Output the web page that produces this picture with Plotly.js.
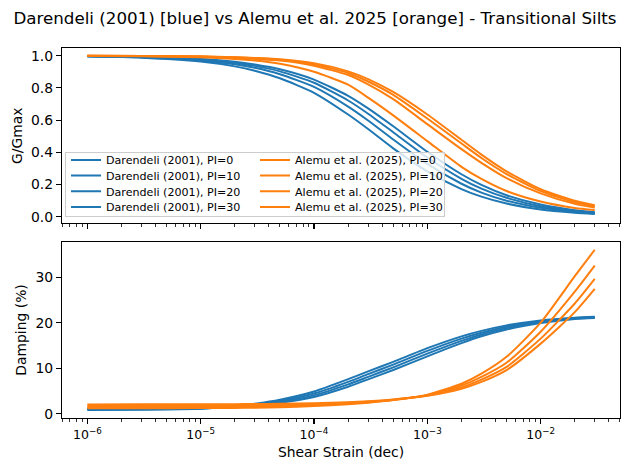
<!DOCTYPE html>
<html>
<head>
<meta charset="utf-8">
<script src="https://cdn.plot.ly/plotly-3.0.1.min.js"></script>
<style>
  html, body { margin: 0; padding: 0; background: #ffffff; }
  #chart { width: 630px; height: 475px; }
</style>
</head>
<body>
<div id="chart"></div>
<script>
// Shear strain (decimal) at which both models are evaluated
const strain = [1e-6, 3e-6, 1e-5, 2e-5, 3e-5, 5e-5, 1e-4, 2e-4, 3e-4, 5e-4,
                1e-3, 2e-3, 3e-3, 5e-3, 1e-2, 2e-2, 3e-2];

const plasticity = [0, 10, 20, 30];

// Decade ticks of the shared strain axis
const strainTickVals = [1e-6, 1e-5, 1e-4, 1e-3, 1e-2];
const strainTickText = ['10<sup>−6</sup>', '10<sup>−5</sup>', '10<sup>−4</sup>', '10<sup>−3</sup>', '10<sup>−2</sup>'];

// Darendeli (2001) modulus reduction, one row per PI
const darendeliG_PI0  = [0.996, 0.988, 0.964, 0.934, 0.907, 0.860, 0.770, 0.635, 0.545, 0.425, 0.282, 0.172, 0.125, 0.082, 0.045, 0.025, 0.017];
const darendeliG_PI10 = [0.996, 0.990, 0.971, 0.947, 0.925, 0.885, 0.806, 0.684, 0.598, 0.480, 0.328, 0.205, 0.150, 0.100, 0.056, 0.030, 0.021];
const darendeliG_PI20 = [0.997, 0.992, 0.976, 0.955, 0.937, 0.903, 0.832, 0.722, 0.640, 0.525, 0.368, 0.236, 0.175, 0.118, 0.066, 0.036, 0.025];
const darendeliG_PI30 = [0.997, 0.993, 0.979, 0.962, 0.945, 0.916, 0.852, 0.751, 0.673, 0.562, 0.404, 0.264, 0.198, 0.134, 0.076, 0.041, 0.029];

// Alemu et al. (2025) modulus reduction
const alemuG_PI0  = [0.999, 0.997, 0.990, 0.980, 0.970, 0.950, 0.900, 0.820, 0.740, 0.630, 0.470, 0.310, 0.235, 0.160, 0.095, 0.055, 0.042];
const alemuG_PI10 = [1.000, 0.999, 0.993, 0.987, 0.980, 0.970, 0.938, 0.880, 0.822, 0.730, 0.575, 0.420, 0.335, 0.240, 0.145, 0.080, 0.057];
const alemuG_PI20 = [1.000, 0.999, 0.995, 0.990, 0.984, 0.975, 0.947, 0.893, 0.840, 0.757, 0.610, 0.455, 0.365, 0.265, 0.160, 0.090, 0.065];
const alemuG_PI30 = [1.000, 0.999, 0.996, 0.991, 0.986, 0.978, 0.954, 0.903, 0.855, 0.775, 0.635, 0.478, 0.386, 0.282, 0.171, 0.099, 0.072];

// Darendeli (2001) damping ratio (%)
const darendeliD_PI0  = [0.85, 0.90, 1.10, 1.65, 2.20, 3.10, 4.90, 7.60, 9.30, 11.4, 14.4, 17.0, 18.2, 19.4, 20.5, 21.1, 21.3];
const darendeliD_PI10 = [0.95, 1.00, 1.15, 1.60, 2.05, 2.85, 4.45, 7.00, 8.70, 10.8, 13.8, 16.5, 17.8, 19.1, 20.3, 21.0, 21.2];
const darendeliD_PI20 = [1.05, 1.10, 1.22, 1.55, 1.95, 2.65, 4.05, 6.45, 8.10, 10.2, 13.2, 16.0, 17.4, 18.8, 20.1, 20.9, 21.1];
const darendeliD_PI30 = [1.15, 1.20, 1.30, 1.55, 1.85, 2.45, 3.70, 5.95, 7.55, 9.60, 12.6, 15.5, 17.0, 18.5, 19.9, 20.8, 21.0];

// Alemu et al. (2025) damping ratio (%)
const alemuD_PI0  = [1.20, 1.22, 1.26, 1.30, 1.35, 1.45, 1.70, 2.10, 2.45, 3.00, 4.20, 6.60, 8.80, 12.5, 20.0, 30.2, 36.0];
const alemuD_PI10 = [1.50, 1.52, 1.55, 1.60, 1.63, 1.70, 1.90, 2.25, 2.55, 3.05, 4.10, 6.20, 8.10, 11.2, 18.0, 26.8, 32.5];
const alemuD_PI20 = [1.80, 1.82, 1.85, 1.88, 1.90, 1.96, 2.12, 2.40, 2.65, 3.10, 4.00, 5.80, 7.50, 10.3, 16.5, 24.2, 29.6];
const alemuD_PI30 = [2.05, 2.07, 2.10, 2.12, 2.15, 2.20, 2.33, 2.55, 2.75, 3.15, 3.95, 5.50, 7.00, 9.60, 15.4, 22.3, 27.4];

const darendeliG = [darendeliG_PI0, darendeliG_PI10, darendeliG_PI20, darendeliG_PI30];
const alemuG = [alemuG_PI0, alemuG_PI10, alemuG_PI20, alemuG_PI30];
const darendeliD = [darendeliD_PI0, darendeliD_PI10, darendeliD_PI20, darendeliD_PI30];
const alemuD = [alemuD_PI0, alemuD_PI10, alemuD_PI20, alemuD_PI30];

// Minor log ticks (2..9 within each decade)
const minorTickVals = [];
for (let e = -7; e <= -1; e++) {
  for (let m = 2; m <= 9; m++) minorTickVals.push(m * Math.pow(10, e));
}

const BLUE = '#1f77b4';
const ORANGE = '#ff7f0e';
const FONT = 'DejaVu Sans, Liberation Sans, sans-serif';

function curve(y, color, name, xa, ya, showlegend, rank) {
  return {
    x: strain, y: y, name: name,
    type: 'scatter', mode: 'lines',
    line: { color: color, width: 2, shape: 'spline', smoothing: 0.6 },
    xaxis: xa, yaxis: ya,
    showlegend: showlegend, legendrank: rank,
    hoverinfo: 'skip'
  };
}

const traces = [];
// Modulus reduction panel: blue first, orange drawn over it
plasticity.forEach((pi, i) => traces.push(curve(darendeliG[i], BLUE, 'Darendeli (2001), PI=' + pi, 'x', 'y', true, 2 * i + 1)));
plasticity.forEach((pi, i) => traces.push(curve(alemuG[i], ORANGE, 'Alemu et al. (2025), PI=' + pi, 'x', 'y', true, 2 * i + 2)));
// Damping panel
plasticity.forEach((pi, i) => traces.push(curve(darendeliD[i], BLUE, 'Darendeli (2001), PI=' + pi, 'x2', 'y2', false, 100)));
plasticity.forEach((pi, i) => traces.push(curve(alemuD[i], ORANGE, 'Alemu et al. (2025), PI=' + pi, 'x2', 'y2', false, 100)));

const tickFont = { family: FONT, size: 13.9, color: '#000' };

const xCommon = {
  type: 'log',
  range: [-6.224, -1.3],
  tickmode: 'array', tickvals: strainTickVals, ticktext: strainTickText,
  showgrid: false, zeroline: false,
  showline: true, mirror: true, linecolor: '#000', linewidth: 1.1,
  ticks: 'outside', ticklen: 5, tickwidth: 1.1, tickcolor: '#000',
  minor: { tickmode: 'array', tickvals: minorTickVals, ticks: 'outside', ticklen: 3, tickwidth: 0.8, tickcolor: '#000', showgrid: false },
  tickfont: { family: FONT, size: 12.5, color: '#000' }
};

const yCommon = {
  showgrid: false, zeroline: false,
  showline: true, mirror: true, linecolor: '#000', linewidth: 1.1,
  ticks: 'outside', ticklen: 5, tickwidth: 1.1, tickcolor: '#000',
  tickfont: tickFont
};

const layout = {
  width: 630, height: 475,
  paper_bgcolor: '#ffffff', plot_bgcolor: '#ffffff',
  font: { family: FONT, color: '#000' },
  margin: { l: 62, r: 10, t: 48, b: 57, pad: 0 },
  title: {
    text: 'Darendeli (2001) [blue] vs Alemu et al. 2025 [orange] - Transitional Silts',
    font: { family: FONT, size: 16.7, color: '#000' },
    x: 0.5, xref: 'container', xanchor: 'center',
    y: 1 - 18 / 475, yref: 'container', yanchor: 'middle'
  },
  xaxis: Object.assign({}, xCommon, { anchor: 'y', matches: 'x2', showticklabels: false }),
  yaxis: Object.assign({}, yCommon, {
    domain: [0.526, 1], range: [-0.041, 1.048],
    tickvals: [0, 0.2, 0.4, 0.6, 0.8, 1.0], tickformat: '.1f',
    title: { text: 'G/Gmax', font: { family: FONT, size: 13.9, color: '#000' }, standoff: 5 }
  }),
  xaxis2: Object.assign({}, xCommon, {
    anchor: 'y2',
    title: { text: 'Shear Strain (dec)', font: { family: FONT, size: 13.9, color: '#000' }, standoff: 6 }
  }),
  yaxis2: Object.assign({}, yCommon, {
    domain: [0, 0.4757], range: [-0.92, 37.7],
    tickvals: [0, 10, 20, 30],
    title: { text: 'Damping (%)', font: { family: FONT, size: 13.9, color: '#000' }, standoff: 5 }
  }),
  legend: {
    orientation: 'h',
    x: 0.0054, xanchor: 'left', xref: 'paper',
    y: 0.5424, yanchor: 'bottom', yref: 'paper',
    entrywidth: 144, entrywidthmode: 'pixels',
    bgcolor: 'rgba(255,255,255,0.8)', bordercolor: '#cccccc', borderwidth: 1,
    font: { family: FONT, size: 11.1, color: '#000' },
    traceorder: 'normal', itemwidth: 30
  },
  showlegend: true
};

// Tighten the two-column legend to a compact row pitch, keeping its bottom edge fixed
function compactLegend(gd, pitch, padTop, boxHeight) {
  const legend = gd.querySelector('g.legend');
  if (!legend) return;
  const readXY = el => {
    const m = /translate\(\s*([-\d.e]+)[ ,]+([-\d.e]+)\s*\)/.exec(el.getAttribute('transform') || '');
    return m ? [parseFloat(m[1]), parseFloat(m[2])] : null;
  };
  const items = Array.from(legend.querySelectorAll('g.traces'));
  const pos = items.map(readXY);
  if (!items.length || pos.some(p => !p)) return;
  const rows = [...new Set(pos.map(p => Math.round(p[1] * 10) / 10))].sort((a, b) => a - b);
  if (rows.length !== 4) return;
  const bg = legend.querySelector('rect.bg');
  const lp = readXY(legend);
  if (!bg || !lp) return;
  const oldH = parseFloat(bg.getAttribute('height'));
  items.forEach((el, i) => {
    const r = rows.indexOf(Math.round(pos[i][1] * 10) / 10);
    el.setAttribute('transform', 'translate(' + pos[i][0] + ',' + (padTop + r * pitch) + ')');
  });
  bg.setAttribute('height', boxHeight);
  legend.setAttribute('transform', 'translate(' + lp[0] + ',' + (lp[1] + oldH - boxHeight) + ')');
}

Plotly.newPlot('chart', traces, layout, { staticPlot: true, displayModeBar: false })
  .then(gd => compactLegend(gd, 15.7, 7.6, 64));
</script>
</body>
</html>
